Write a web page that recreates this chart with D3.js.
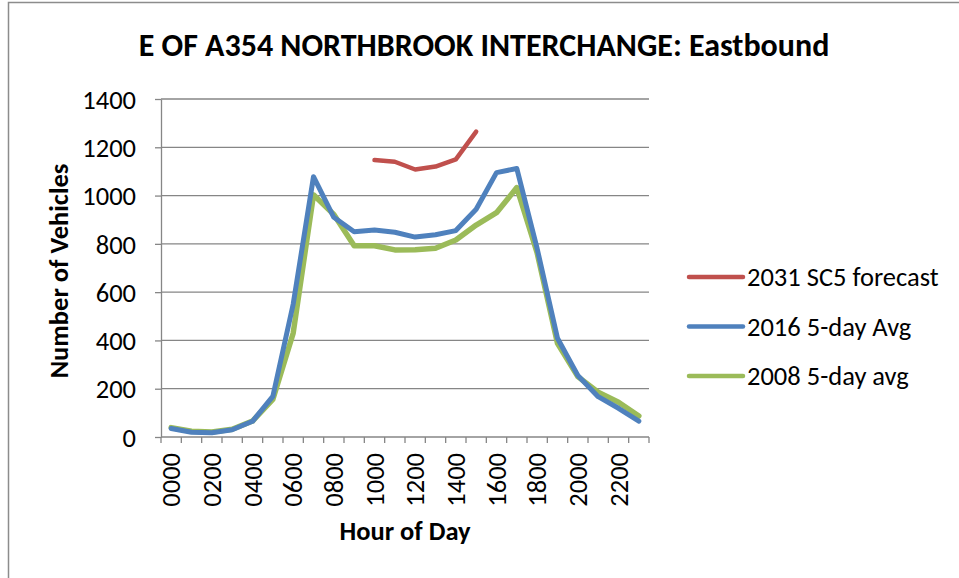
<!DOCTYPE html>
<html>
<head>
<meta charset="utf-8">
<script src="https://cdn.jsdelivr.net/npm/d3@7"></script>
<style>
    body { margin: 0; background: #fff; }
    svg { display: block; }
    text { font-family: Carlito, "Open Sans", "Liberation Sans", sans-serif; fill: #000; }
</style>
</head>
<body>
<div id="chart"></div>
<script>

var hours = ['0000', '0100', '0200', '0300', '0400', '0500', '0600', '0700', '0800', '0900', '1000', '1100',
    '1200', '1300', '1400', '1500', '1600', '1700', '1800', '1900', '2000', '2100', '2200', '2300'];

// 2031 forecast only covers the inter-peak hours
var forecast2031 = [null, null, null, null, null, null, null, null, null, null, 1147, 1140,
    1108, 1120, 1150, 1265, null, null, null, null, null, null, null, null];

var avg2016 = [35, 20, 18, 30, 65, 168, 550, 1078, 910, 850, 857, 848,
    828, 838, 855, 943, 1095, 1112, 780, 409, 255, 167, 119, 66];

var avg2008 = [39, 24, 21, 32, 66, 156, 430, 1003, 922, 792, 792, 775,
    776, 782, 816, 878, 929, 1033, 762, 388, 250, 186, 144, 87];

var yTicks = [0, 200, 400, 600, 800, 1000, 1200, 1400];

var series = [
    { name: '2031 SC5 forecast', values: forecast2031, color: '#C0504D', width: 4.5 },
    { name: '2016 5-day Avg', values: avg2016, color: '#4F81BD', width: 5 },
    { name: '2008 5-day avg', values: avg2008, color: '#9BBB59', width: 5.5 }
];

var width = 959,
    height = 578,
    plot = { left: 161, right: 649, top: 99, bottom: 437 },
    gridColor = '#868686',
    fontSize = '26.5px';

var svg = d3.select('#chart')
    .append('svg')
    .attr('width', width)
    .attr('height', height);

// chart frame, clipped on the right and bottom like the original
svg.append('rect')
    .attr('x', 8.5)
    .attr('y', 2.5)
    .attr('width', 1000)
    .attr('height', 1000)
    .attr('fill', 'none')
    .attr('stroke', '#8c8c8c')
    .attr('stroke-width', 1.5);

var x = d3.scaleBand()
    .domain(hours)
    .range([plot.left, plot.right]);

var y = d3.scaleLinear()
    .domain([0, 1400])
    .range([plot.bottom, plot.top]);

// gridlines
svg.append('g')
    .selectAll('line')
    .data(yTicks.slice(1))
    .enter()
    .append('line')
    .attr('x1', plot.left)
    .attr('x2', plot.right)
    .attr('y1', function(d) { return y(d); })
    .attr('y2', function(d) { return y(d); })
    .attr('stroke', gridColor)
    .attr('stroke-width', 1.3);

// y axis
var yAxis = svg.append('g')
    .attr('transform', 'translate(' + plot.left + ',0)')
    .call(d3.axisLeft(y)
        .tickValues(yTicks)
        .tickFormat(d3.format('d'))
        .tickSize(6)
        .tickPadding(19)
        .tickSizeOuter(0));

yAxis.select('.domain').attr('stroke', gridColor).attr('stroke-width', 1.3);
yAxis.selectAll('.tick line').attr('stroke', gridColor).attr('stroke-width', 1.3);
yAxis.selectAll('.tick text')
    .style('font-size', fontSize)
    .style('font-family', null)
    .attr('fill', '#000')
    .attr('dy', '0.35em');
yAxis.attr('font-family', null).attr('font-size', null);

// x axis: ticks sit on the category boundaries
var xAxis = svg.append('g')
    .attr('transform', 'translate(0,' + plot.bottom + ')');

xAxis.append('line')
    .attr('x1', plot.left)
    .attr('x2', plot.right)
    .attr('stroke', gridColor)
    .attr('stroke-width', 1.3);

xAxis.selectAll('line.tick')
    .data(hours.concat(['end']))
    .enter()
    .append('line')
    .attr('class', 'tick')
    .attr('x1', function(d, i) { return plot.left + i * x.bandwidth(); })
    .attr('x2', function(d, i) { return plot.left + i * x.bandwidth(); })
    .attr('y1', 0)
    .attr('y2', 6)
    .attr('stroke', gridColor)
    .attr('stroke-width', 1.3);

xAxis.selectAll('text')
    .data(hours.filter(function(d, i) { return i % 2 === 0; }))
    .enter()
    .append('text')
    .attr('transform', function(d) {
        return 'translate(' + (x(d) + x.bandwidth() / 2) + ',16) rotate(-90)';
    })
    .attr('text-anchor', 'end')
    .attr('dy', '0.35em')
    .style('font-size', fontSize)
    .text(function(d) { return d; });

// lines
var line = d3.line()
    .defined(function(d) { return d != null; })
    .x(function(d, i) { return x(hours[i]) + x.bandwidth() / 2; })
    .y(function(d) { return y(d); });

svg.append('g')
    .selectAll('path')
    .data(series.slice().reverse())
    .enter()
    .append('path')
    .attr('d', function(d) { return line(d.values); })
    .attr('fill', 'none')
    .attr('stroke', function(d) { return d.color; })
    .attr('stroke-width', function(d) { return d.width; })
    .attr('stroke-linejoin', 'round')
    .attr('stroke-linecap', 'round');

// legend
var legend = svg.append('g')
    .selectAll('g')
    .data(series)
    .enter()
    .append('g')
    .attr('transform', function(d, i) { return 'translate(689,' + (277 + i * 49.5) + ')'; });

legend.append('line')
    .attr('x1', 0)
    .attr('x2', 54)
    .attr('stroke', function(d) { return d.color; })
    .attr('stroke-width', 4.5)
    .attr('stroke-linecap', 'round');

legend.append('text')
    .attr('x', 58)
    .attr('dy', '0.35em')
    .style('font-size', fontSize)
    .text(function(d) { return d.name; });

// titles
svg.append('text')
    .attr('x', 484)
    .attr('y', 56)
    .attr('text-anchor', 'middle')
    .style('font-size', '32px')
    .style('font-weight', 'bold')
    .text('E OF A354 NORTHBROOK INTERCHANGE: Eastbound');

svg.append('text')
    .attr('x', 405)
    .attr('y', 540)
    .attr('text-anchor', 'middle')
    .style('font-size', fontSize)
    .style('font-weight', 'bold')
    .text('Hour of Day');

svg.append('text')
    .attr('transform', 'translate(68,271) rotate(-90)')
    .attr('text-anchor', 'middle')
    .style('font-size', fontSize)
    .style('font-weight', 'bold')
    .text('Number of Vehicles');

</script>
</body>
</html>
